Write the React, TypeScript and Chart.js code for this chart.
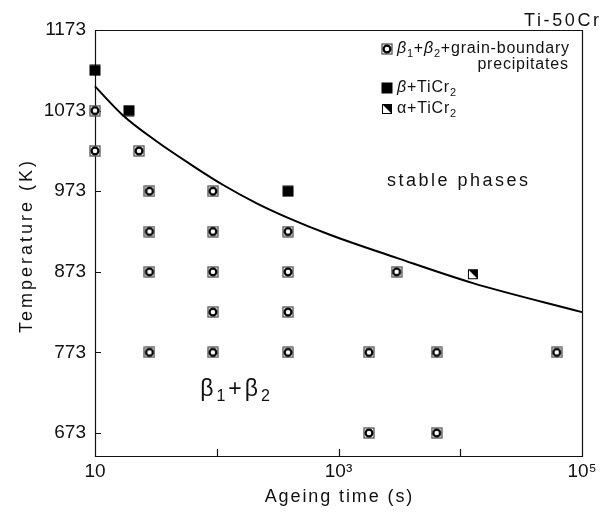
import React, { useEffect, useRef } from 'react';
import { Chart, registerables } from 'chart.js';
Chart.register(...registerables);

const FONT = '"Liberation Sans", Arial, sans-serif';

// beta1 + beta2 + grain-boundary precipitates
const grainTimes = [10, 10, 23, 28, 28, 28, 28, 93, 93, 93, 93, 93, 385, 385, 385, 385, 1780, 1780, 3000, 6400, 6400, 62000];
const grainTemps = [1073, 1023, 1023, 973, 923, 873, 773, 973, 923, 873, 823, 773, 923, 873, 823, 773, 773, 673, 873, 773, 673, 773];
// beta + TiCr2
const betaTimes = [10, 19, 385];
const betaTemps = [1123, 1073, 973];
// alpha + TiCr2
const alphaTimes = [12700];
const alphaTemps = [870];
// phase boundary curve
const curveTimes = [10, 17, 32, 60, 112, 213, 385, 850, 3040, 12700, 100000];
const curveTemps = [1103, 1067, 1035, 1007, 981, 958, 940, 919, 890, 859, 823];

const xTickValues = [10, 100, 1000, 10000, 100000];
const xTickLabels = ['10', '', '10³', '', '10⁵'];
const yTickValues = [673, 773, 873, 973, 1073, 1173];
const yTickLabels = ['673', '773', '873', '973', '1073', '1173'];

type Seg = { t: string; sub?: boolean; italic?: boolean };

function drawRich(
  ctx: CanvasRenderingContext2D,
  segs: Seg[],
  x: number,
  y: number,
  size: number,
  align: 'left' | 'right' | 'center',
  spacing: number
) {
  ctx.letterSpacing = `${spacing}px`;
  const fontOf = (s: Seg) =>
    `${s.italic ? 'italic ' : ''}${s.sub ? Math.round(size * 0.68) : size}px ${FONT}`;
  const widths: number[] = [];
  let total = 0;
  for (const s of segs) {
    ctx.font = fontOf(s);
    const w = ctx.measureText(s.t).width;
    widths.push(w);
    total += w;
  }
  total -= spacing;
  let cx = align === 'left' ? x : align === 'right' ? x - total : x - total / 2;
  ctx.textAlign = 'left';
  ctx.textBaseline = 'middle';
  segs.forEach((s, i) => {
    ctx.font = fontOf(s);
    ctx.fillText(s.t, cx, s.sub ? y + size * 0.3 : y);
    cx += widths[i];
  });
}

function makeMarker(kind: 'grain' | 'beta' | 'alpha'): HTMLCanvasElement {
  const s = 12;
  const c = document.createElement('canvas');
  c.width = s;
  c.height = s;
  const g = c.getContext('2d')!;
  if (kind === 'beta') {
    g.fillStyle = '#000';
    g.fillRect(0.5, 0.5, 11, 11);
  } else if (kind === 'grain') {
    g.fillStyle = '#fff';
    g.fillRect(1, 1, 10, 10);
    g.strokeStyle = '#555';
    g.lineWidth = 1.3;
    g.strokeRect(1, 1, 10, 10);
    g.beginPath();
    g.arc(6, 6, 3.4, 0, Math.PI * 2);
    g.strokeStyle = '#000';
    g.lineWidth = 2.2;
    g.stroke();
  } else {
    g.fillStyle = '#fff';
    g.fillRect(1, 1, 10, 10);
    g.strokeStyle = '#000';
    g.lineWidth = 1;
    g.strokeRect(1.5, 1.5, 9, 9);
    g.beginPath();
    g.moveTo(1, 1);
    g.lineTo(11, 1);
    g.lineTo(11, 11);
    g.closePath();
    g.fillStyle = '#000';
    g.fill();
  }
  return c;
}

export default function App() {
  const ref = useRef<HTMLCanvasElement>(null);
  useEffect(() => {
    const grain = makeMarker('grain');
    const beta = makeMarker('beta');
    const alpha = makeMarker('alpha');

    const decor = {
      id: 'decor',
      beforeDatasetsDraw(chart: any) {
        const { ctx, chartArea: a, scales } = chart;
        ctx.save();
        ctx.strokeStyle = '#111';
        ctx.lineWidth = 1.2;
        ctx.beginPath();
        ctx.rect(a.left + 0.5, a.top + 0.5, a.right - a.left, a.bottom - a.top);
        ctx.stroke();
        ctx.beginPath();
        for (const v of xTickValues.slice(1, -1)) {
          const px = Math.round(scales.x.getPixelForValue(v)) + 0.5;
          ctx.moveTo(px, a.bottom);
          ctx.lineTo(px, a.bottom - 7);
        }
        for (const v of yTickValues.slice(0, -1)) {
          const py = Math.round(scales.y.getPixelForValue(v)) + 0.5;
          ctx.moveTo(a.left, py);
          ctx.lineTo(a.left + 6, py);
        }
        ctx.stroke();
        ctx.restore();
      },
      afterDraw(chart: any) {
        const { ctx, chartArea: a } = chart;
        ctx.save();
        ctx.fillStyle = '#111';
        // y axis title
        ctx.save();
        ctx.translate(27, 247);
        ctx.rotate(-Math.PI / 2);
        drawRich(ctx, [{ t: 'Temperature (K)' }], 0, 0, 18, 'center', 3);
        ctx.restore();
        // x axis title
        drawRich(ctx, [{ t: 'Ageing time (s)' }], (a.left + a.right) / 2, 497, 18, 'center', 1.9);
        // annotations
        drawRich(ctx, [{ t: 'Ti-50Cr' }], 599, 21, 18, 'right', 2.6);
        drawRich(ctx, [{ t: 'stable phases' }], 387, 181, 18, 'left', 2.5);
        drawRich(
          ctx,
          [{ t: 'β' }, { t: '1', sub: true }, { t: '+' }, { t: 'β' }, { t: '2', sub: true }],
          235,
          390,
          23,
          'center',
          3
        );
        // legend
        ctx.drawImage(grain, 381, 43);
        drawRich(
          ctx,
          [
            { t: 'β', italic: true },
            { t: '1', sub: true },
            { t: '+' },
            { t: 'β', italic: true },
            { t: '2', sub: true },
            { t: '+grain-boundary' },
          ],
          397,
          49,
          16,
          'left',
          0.8
        );
        drawRich(ctx, [{ t: 'precipitates' }], 568, 65, 16, 'right', 0.8);
        ctx.drawImage(beta, 381, 82);
        drawRich(
          ctx,
          [{ t: 'β', italic: true }, { t: '+TiCr' }, { t: '2', sub: true }],
          397,
          88,
          16,
          'left',
          0.8
        );
        ctx.drawImage(alpha, 381, 103);
        drawRich(ctx, [{ t: 'α+TiCr' }, { t: '2', sub: true }], 397, 109, 16, 'left', 0.8);
        ctx.restore();
      },
    };

    const pts = (xs: number[], ys: number[]) => xs.map((x, i) => ({ x, y: ys[i] }));

    const chart = new Chart(ref.current!, {
      type: 'scatter',
      data: {
        datasets: [
          {
            label: 'boundary',
            type: 'line',
            data: pts(curveTimes, curveTemps),
            borderColor: '#000',
            borderWidth: 2,
            pointRadius: 0,
            cubicInterpolationMode: 'monotone',
            fill: false,
            clip: false,
          } as any,
          {
            label: 'β1+β2+grain-boundary precipitates',
            data: pts(grainTimes, grainTemps),
            pointStyle: grain,
            clip: false,
          } as any,
          {
            label: 'β+TiCr2',
            data: pts(betaTimes, betaTemps),
            pointStyle: beta,
            clip: false,
          } as any,
          {
            label: 'α+TiCr2',
            data: pts(alphaTimes, alphaTemps),
            pointStyle: alpha,
            clip: false,
          } as any,
        ],
      },
      options: {
        responsive: false,
        animation: false,
        devicePixelRatio: 1,
        events: [],
        layout: { padding: { top: 30, right: 26, left: 0, bottom: 0 } },
        plugins: { legend: { display: false }, tooltip: { enabled: false } },
        scales: {
          x: {
            type: 'logarithmic',
            min: 10,
            max: 100000,
            afterBuildTicks(s: any) {
              s.ticks = xTickValues.map((v) => ({ value: v }));
            },
            afterFit(s: any) {
              s.height = 59;
            },
            grid: { display: false, drawTicks: false },
            border: { display: false },
            ticks: {
              autoSkip: false,
              maxRotation: 0,
              padding: 4,
              color: '#111',
              font: { family: FONT, size: 19 },
              callback: (v: any) => {
                const i = xTickValues.indexOf(Number(v));
                return i >= 0 ? xTickLabels[i] : '';
              },
            },
          },
          y: {
            type: 'linear',
            min: 644.5,
            max: 1173,
            afterBuildTicks(s: any) {
              s.ticks = yTickValues.map((v) => ({ value: v }));
            },
            afterFit(s: any) {
              s.width = 95;
            },
            grid: { display: false, drawTicks: false },
            border: { display: false },
            ticks: {
              autoSkip: false,
              padding: 9,
              color: '#111',
              font: { family: FONT, size: 19 },
              callback: (v: any) => {
                const i = yTickValues.indexOf(Number(v));
                return i >= 0 ? yTickLabels[i] : '';
              },
            },
          },
        },
      } as any,
      plugins: [decor],
    });
    return () => chart.destroy();
  }, []);
  return (
    <div style={{ position: 'fixed', left: 0, top: 0, width: 608, height: 515, background: '#fff' }}>
      <canvas ref={ref} width={608} height={515} style={{ display: 'block' }} />
    </div>
  );
}
